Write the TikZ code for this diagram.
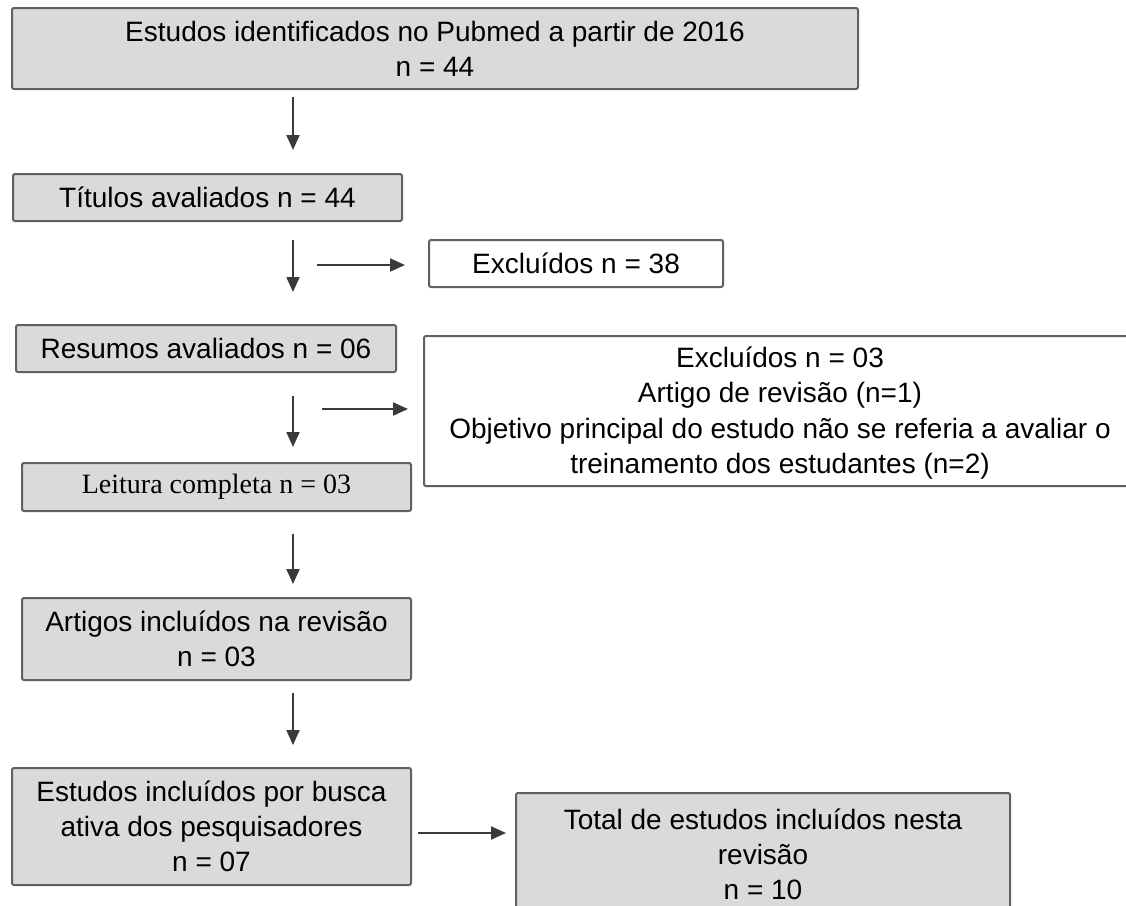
\documentclass[tikz,border=0pt]{standalone}
\usepackage{fontspec}
\setmainfont{Liberation Sans}
\newfontfamily\tnrfont{Liberation Serif}
\usetikzlibrary{arrows.meta}
\definecolor{boxgray}{HTML}{DADADA}
\definecolor{edgegray}{HTML}{606060}
\definecolor{arrowgray}{HTML}{3A3A3A}
\tikzset{
  graybox/.style={draw=edgegray, fill=boxgray, line width=2pt, rounded corners=2pt,
    inner sep=0pt, align=center, font=\fontsize{28}{35}\selectfont},
  whitebox/.style={draw=edgegray, fill=white, line width=2pt, rounded corners=2pt,
    inner sep=0pt, align=center, font=\fontsize{28}{35}\selectfont},
  arr/.style={draw=arrowgray, line width=2pt, -{Triangle[length=15pt,width=13pt]}},
}
\begin{document}
\begin{tikzpicture}[x=1pt,y=-1pt]
\useasboundingbox (0,0) rectangle (1126,905);
% boxes
\node[graybox, minimum width=846pt, minimum height=81pt] (b1) at (435,48.5)
  {Estudos identificados no Pubmed a partir de 2016\\n = 44};
\node[graybox, minimum width=389pt, minimum height=47pt] (b2) at (207.5,197.5)
  {Títulos avaliados n = 44};
\node[whitebox, minimum width=294pt, minimum height=47pt] (e1) at (576,263.5)
  {Excluídos n = 38};
\node[graybox, minimum width=380pt, minimum height=47pt] (b3) at (206,348.5)
  {Resumos avaliados n = 06};
\node[whitebox, minimum width=706pt, minimum height=150pt] (e2) at (777,411) {};
\node[align=center, font=\fontsize{28}{35.3}\selectfont, inner sep=0pt] (e2t) at (780,413)
  {Excluídos n = 03\\Artigo de revisão (n=1)\\Objetivo principal do estudo não se referia a avaliar o\\treinamento dos estudantes (n=2)};
\node[graybox, minimum width=389pt, minimum height=48pt, font=\tnrfont\fontsize{28}{35}\selectfont] (b4) at (216.5,487)
  {Leitura completa n = 03};
\node[graybox, minimum width=389pt, minimum height=82pt] (b5) at (216.5,639)
  {Artigos incluídos na revisão\\n = 03};
\node[graybox, minimum width=399pt, minimum height=117pt] (b6) at (211.5,826.5)
  {Estudos incluídos por busca\\ativa dos pesquisadores\\n = 07};
\node[graybox, minimum width=494pt, minimum height=122pt] (b7) at (763,854)
  {Total de estudos incluídos nesta\\revisão\\n = 10};
% arrow end points
\coordinate (a1s) at (293,97);  \coordinate (a1e) at (293,150);
\coordinate (a2s) at (293,240); \coordinate (a2e) at (293,292);
\coordinate (r1s) at (317,265); \coordinate (r1e) at (405,265);
\coordinate (a3s) at (293,396); \coordinate (a3e) at (293,447);
\coordinate (r2s) at (322,409); \coordinate (r2e) at (408,409);
\coordinate (a4s) at (293,534); \coordinate (a4e) at (293,584);
\coordinate (a5s) at (293,693); \coordinate (a5e) at (293,745);
\coordinate (r3s) at (418,833); \coordinate (r3e) at (506,833);
% arrows
\draw[arr] (a1s) -- (a1e);
\draw[arr] (a2s) -- (a2e);
\draw[arr] (r1s) -- (r1e);
\draw[arr] (a3s) -- (a3e);
\draw[arr] (r2s) -- (r2e);
\draw[arr] (a4s) -- (a4e);
\draw[arr] (a5s) -- (a5e);
\draw[arr] (r3s) -- (r3e);
\end{tikzpicture}
\end{document}
